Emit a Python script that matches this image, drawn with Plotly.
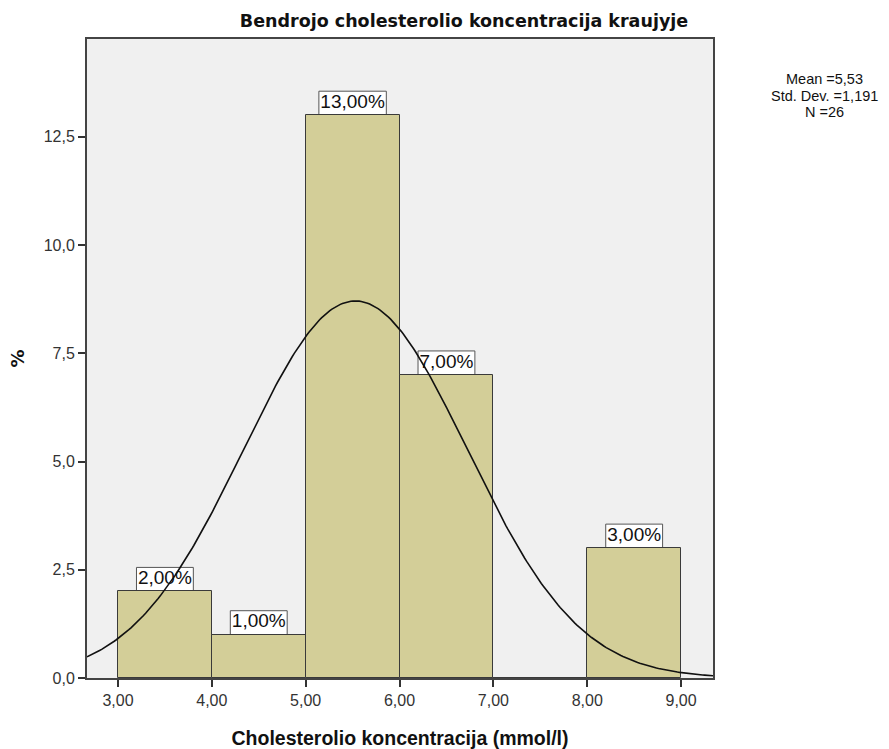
import numpy as np
import plotly.graph_objects as go

# Histogram bins (mmol/l) and percentages
bin_left = [3, 4, 5, 6, 7, 8]
bin_right = [4, 5, 6, 7, 8, 9]
percent = [2, 1, 13, 7, 0, 3]
bar_labels = ["2,00%", "1,00%", "13,00%", "7,00%", "", "3,00%"]

# Summary statistics
mean_val = 5.53
sd_val = 1.191
n_val = 26
stats_lines = ["Mean =5,53", "Std. Dev. =1,191", "N =26"]

x_ticks = [3, 4, 5, 6, 7, 8, 9]
x_ticktext = ["3,00", "4,00", "5,00", "6,00", "7,00", "8,00", "9,00"]
y_ticks = [0, 2.5, 5, 7.5, 10, 12.5]
y_ticktext = ["0,0", "2,5", "5,0", "7,5", "10,0", "12,5"]

x_range = [2.67, 9.34]
y_range = [0, 14.76]

W, H = 889, 749
M = dict(l=87, r=176, t=39, b=71)
px_per_x = (W - M["l"] - M["r"]) / (x_range[1] - x_range[0])
px_per_y = (H - M["t"] - M["b"]) / (y_range[1] - y_range[0])

LABEL_FONT = 19
# approximate Arial advance widths (em) for label characters
CHAR_EM = {"%": 0.889, ",": 0.278}


def text_px(s, size):
    return sum(CHAR_EM.get(ch, 0.556) for ch in s) * size


centers = [(a + b) / 2 for a, b in zip(bin_left, bin_right)]
widths = [b - a for a, b in zip(bin_left, bin_right)]

fig = go.Figure()
fig.add_trace(go.Bar(
    x=centers, y=percent, width=widths,
    marker=dict(color="#d3ce98", line=dict(color="#3a3a3a", width=1)),
    hoverinfo="skip",
))

# White label boxes sitting on top of each bar
box_h = 24 / px_per_y
lab_x, lab_y, lab_t = [], [], []
for c, v, lab in zip(centers, percent, bar_labels):
    if not lab:
        continue
    half_w = (text_px(lab, LABEL_FONT) + 3) / 2 / px_per_x
    fig.add_shape(type="rect", xref="x", yref="y", layer="below",
                  x0=c - half_w, x1=c + half_w, y0=v, y1=v + box_h,
                  fillcolor="white", line=dict(color="#555", width=1))
    lab_x.append(c)
    lab_y.append(v + box_h / 2)
    lab_t.append(lab)

fig.add_trace(go.Scatter(x=lab_x, y=lab_y, text=lab_t, mode="text",
                         textposition="middle center",
                         textfont=dict(family="Arial, Liberation Sans", size=LABEL_FONT, color="#111"),
                         hoverinfo="skip"))

# Normal curve fitted from mean and standard deviation, scaled to the bin width
xs = np.linspace(x_range[0], x_range[1], 300)
ys = n_val * 1.0 * np.exp(-0.5 * ((xs - mean_val) / sd_val) ** 2) / (sd_val * np.sqrt(2 * np.pi))
fig.add_trace(go.Scatter(x=xs, y=ys, mode="lines",
                         line=dict(color="#111111", width=1.6), hoverinfo="skip"))

# Statistics block at the right of the plot
for i, line in enumerate(stats_lines):
    fig.add_annotation(xref="paper", yref="paper", x=(824 - M["l"]) / (W - M["l"] - M["r"]),
                       y=1 - (79 + 16.5 * i - M["t"]) / (H - M["t"] - M["b"]),
                       xanchor="center", yanchor="middle", text=line, showarrow=False,
                       font=dict(family="Arial, Liberation Sans", size=14.5, color="#111"))

fig.update_layout(
    width=W, height=H,
    margin=M,
    paper_bgcolor="white", plot_bgcolor="#f0f0f0",
    showlegend=False, bargap=0,
    title=dict(text="<b>Bendrojo cholesterolio koncentracija kraujyje</b>", x=464 / W, xanchor="center",
               y=1 - 21 / H, yanchor="middle",
               font=dict(family="DejaVu Sans", size=17.5, color="#111")),
)
fig.update_xaxes(range=x_range, tickvals=x_ticks, ticktext=x_ticktext, automargin=False,
                 ticks="outside", ticklen=7, tickwidth=1.5, tickcolor="#333",
                 showgrid=False, zeroline=False, showline=True, linecolor="#444", linewidth=2, mirror=True,
                 tickfont=dict(family="Arial, Liberation Sans", size=16, color="#333"),
                 title=dict(text="<b>Cholesterolio koncentracija (mmol/l)</b>", standoff=24,
                            font=dict(family="Arial, Liberation Sans", size=19.5, color="#111")))
fig.update_yaxes(range=y_range, tickvals=y_ticks, ticktext=y_ticktext, automargin=False,
                 ticks="outside", ticklen=7, tickwidth=1.5, tickcolor="#333",
                 showgrid=False, zeroline=False, showline=True, linecolor="#444", linewidth=2, mirror=True,
                 tickfont=dict(family="Arial, Liberation Sans", size=16, color="#333"),
                 title=dict(text="<b>%</b>", standoff=14,
                            font=dict(family="DejaVu Sans", size=18, color="#111")))

fig.write_html("out.html")
